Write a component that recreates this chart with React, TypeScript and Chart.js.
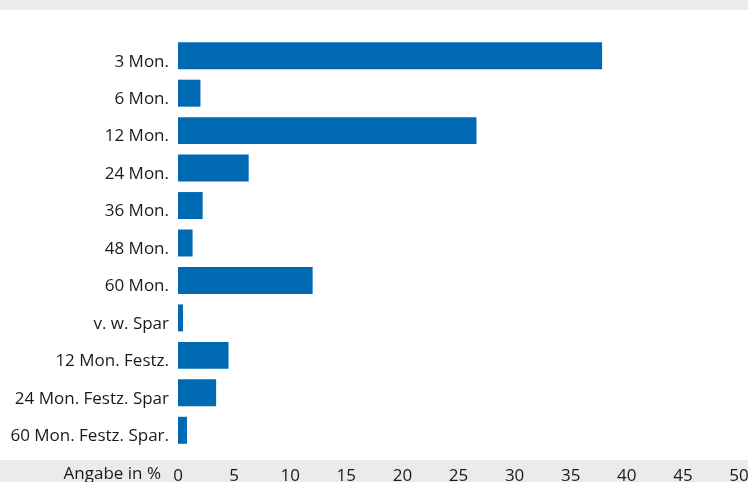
import React, { useEffect, useRef } from "react";
import { Chart, registerables } from "chart.js";

Chart.register(...registerables);

const categories = [
  "3 Mon.",
  "6 Mon.",
  "12 Mon.",
  "24 Mon.",
  "36 Mon.",
  "48 Mon.",
  "60 Mon.",
  "v. w. Spar",
  "12 Mon. Festz.",
  "24 Mon. Festz. Spar",
  "60 Mon. Festz. Spar.",
];
const values = [37.8, 2.0, 26.6, 6.3, 2.2, 1.3, 12.0, 0.45, 4.5, 3.4, 0.8];
const xTicks = [0, 5, 10, 15, 20, 25, 30, 35, 40, 45, 50];
const axisLabel = "Angabe in %";

const FONT = "'Open Sans', 'Noto Sans', sans-serif";
const SIZE = 17;
const TEXT = "#1a1a1a";
const BAR = "#0069b3";

export default function App() {
  const ref = useRef<HTMLCanvasElement | null>(null);

  useEffect(() => {
    document.body.style.margin = "0";
    const canvas = ref.current;
    if (!canvas) return;

    const axisTitle = {
      id: "axisTitle",
      afterDraw(chart: any) {
        const { ctx, chartArea } = chart;
        const xs = chart.scales.x;
        ctx.save();
        ctx.font = `${SIZE}px ${FONT}`;
        ctx.fillStyle = TEXT;
        ctx.textAlign = "right";
        ctx.textBaseline = "top";
        ctx.fillText(axisLabel, xs.getPixelForValue(0) - 17, chartArea.bottom + 17);
        ctx.restore();
      },
    };

    const chart = new Chart(canvas, {
      type: "bar",
      data: {
        labels: categories,
        datasets: [
          {
            data: values,
            backgroundColor: BAR,
            borderWidth: 0,
          },
        ],
      },
      options: {
        indexAxis: "y",
        animation: false,
        responsive: false,
        layout: { padding: { top: 37, right: 9, bottom: 0, left: 0 } },
        plugins: {
          legend: { display: false },
          tooltip: { enabled: false },
        },
        scales: {
          x: {
            min: 0,
            max: 50,
            afterBuildTicks(scale: any) {
              scale.ticks = xTicks.map((v) => ({ value: v }));
            },
            afterFit(scale: any) {
              scale.height = 33;
              scale.paddingLeft = 0;
              scale.paddingRight = 0;
            },
            grid: { display: false, drawTicks: false },
            border: { display: false },
            ticks: {
              padding: 17,
              color: TEXT,
              font: { family: FONT, size: SIZE },
              maxRotation: 0,
            },
          },
          y: {
            afterFit(scale: any) {
              scale.width = 178;
              scale.paddingTop = 0;
              scale.paddingBottom = 0;
            },
            grid: { display: false, drawTicks: false },
            border: { display: false },
            ticks: {
              padding: 9,
              labelOffset: 6,
              color: TEXT,
              font: { family: FONT, size: SIZE },
              autoSkip: false,
            },
          },
        },
      },
      plugins: [axisTitle],
    });

    return () => chart.destroy();
  }, []);

  return (
    <div
      style={{
        position: "absolute",
        left: 0,
        top: 0,
        width: 748,
        height: 482,
        background:
          "linear-gradient(to bottom, #ebebeb 0px, #ebebeb 10px, #ffffff 10px, #ffffff 460px, #ebebeb 460px, #ebebeb 482px)",
      }}
    >
      <canvas ref={ref} width={748} height={482} style={{ display: "block" }} />
    </div>
  );
}
